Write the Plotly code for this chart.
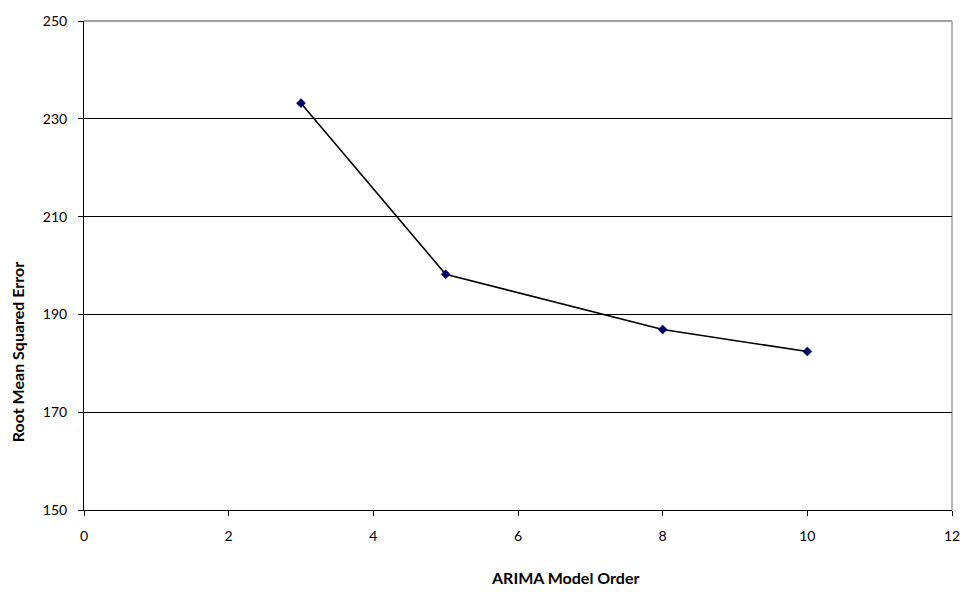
import plotly.graph_objects as go

model_order = [3, 5, 8, 10]
rmse = [233.2, 198.2, 186.9, 182.4]

x_title = "ARIMA Model Order"
y_title = "Root Mean Squared Error"

font_family = "Lato, 'Open Sans', sans-serif"

fig = go.Figure()
fig.add_trace(go.Scatter(
    x=model_order, y=rmse, mode="lines+markers",
    line=dict(color="black", width=1.6),
    marker=dict(symbol="diamond", size=7, color="#000066",
                line=dict(color="#000080", width=0.5)),
    showlegend=False, cliponaxis=False,
))

fig.update_layout(
    width=972, height=592,
    margin=dict(l=84, r=13, t=15, b=82),
    paper_bgcolor="white", plot_bgcolor="white",
    font=dict(family=font_family, size=14, color="black"),
    xaxis=dict(
        range=[0, 12], dtick=2, tick0=0,
        showgrid=False, zeroline=False,
        showline=True, linecolor="black", linewidth=1,
        ticks="outside", ticklen=5, tickcolor="black",
        tickfont=dict(size=14), ticklabelstandoff=8,
    ),
    yaxis=dict(
        range=[150, 250], dtick=20, tick0=150,
        showgrid=True, gridcolor="black", gridwidth=1,
        zeroline=False,
        showline=True, linecolor="black", linewidth=1,
        ticks="outside", ticklen=5, tickcolor="black",
        tickfont=dict(size=14), ticklabelstandoff=8,
    ),
    shapes=[
        dict(type="line", xref="paper", yref="paper", x0=0, x1=1, y0=1, y1=1,
             line=dict(color="#808080", width=1.5), layer="below"),
        dict(type="line", xref="paper", yref="paper", x0=1, x1=1, y0=0, y1=1,
             line=dict(color="#a0a0a0", width=1.5), layer="below"),
    ],
    annotations=[
        dict(text="<b>" + x_title + "</b>", xref="paper", yref="paper",
             x=0.554, y=-0.138, xanchor="center", yanchor="middle",
             showarrow=False, font=dict(size=16)),
        dict(text="<b>" + y_title + "</b>", xref="paper", yref="paper",
             x=-0.077, y=0.323, xanchor="center", yanchor="middle",
             textangle=-90, showarrow=False, font=dict(size=16)),
    ],
)

fig.write_html("out.html")
